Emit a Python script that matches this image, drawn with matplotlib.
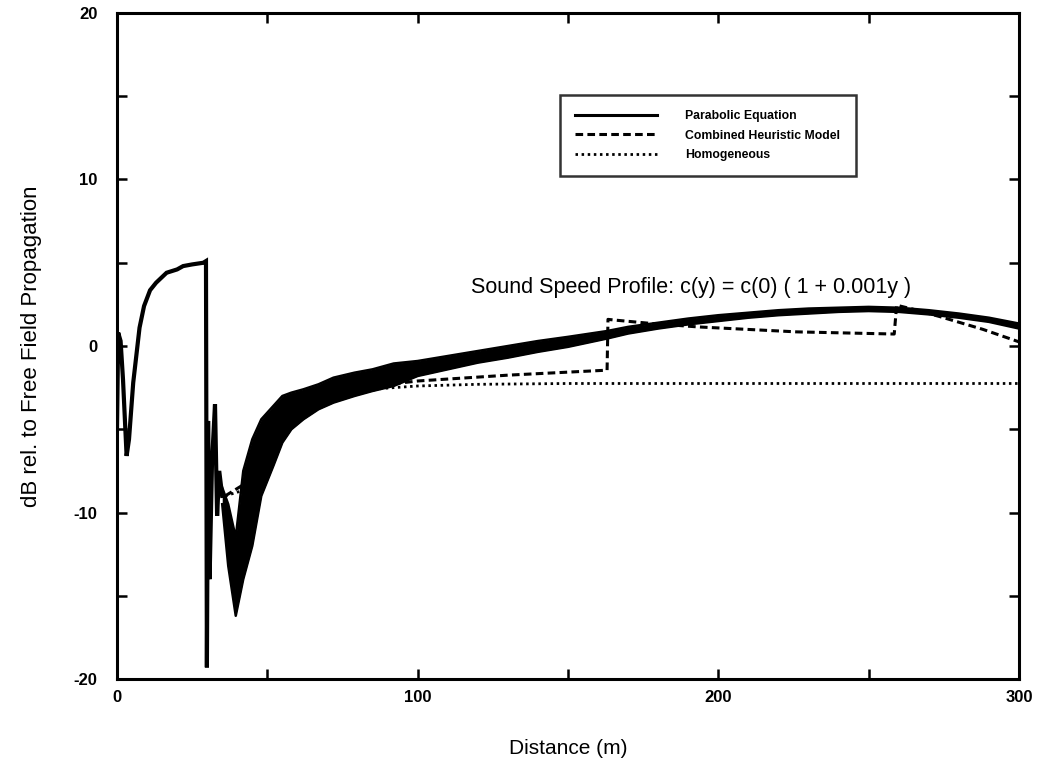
import numpy as np
import matplotlib
matplotlib.use("Agg")
import matplotlib.pyplot as plt

plt.rcParams['font.family'] = ['Liberation Sans', 'DejaVu Sans']
plt.rcParams['axes.unicode_minus'] = False

# Parabolic equation, near field (single line)
pe_near_x = [0, 0.4, 1.2, 2.0, 3.2, 4.0, 5.4, 7.5, 9.0, 11.0, 13.0, 16.5, 20.0, 22.0, 25.0, 28.7, 29.6,
             29.9, 30.3, 30.8, 31.6, 32.6, 33.3, 34.0, 35.0]
pe_near_y = [-5.0, 0.8, 0.3, -2.0, -6.6, -5.6, -2.2, 1.1, 2.4, 3.35, 3.8, 4.4, 4.6, 4.8, 4.9, 5.0, 5.1,
             -19.3, -4.5, -14.0, -7.0, -3.5, -10.2, -7.5, -9.0]

# Parabolic equation, oscillating part: lower / upper envelope of the band
pe_band_x = [35, 37, 39.5, 42, 45, 48, 52, 55, 58, 62, 67, 72, 79, 85, 92, 100, 110, 120, 130, 140,
             150, 163, 170, 180, 190, 200, 210, 220, 230, 240, 250, 260, 270, 280, 290, 300]
pe_band_lo = [-9.5, -13.2, -16.2, -14.0, -12.0, -9.0, -7.2, -5.8, -5.0, -4.4, -3.8, -3.4, -3.0, -2.7,
              -2.4, -1.8, -1.4, -1.0, -0.7, -0.35, -0.05, 0.45, 0.75, 1.05, 1.3, 1.5, 1.7, 1.85, 1.95,
              2.05, 2.1, 2.05, 1.9, 1.7, 1.45, 1.05]
pe_band_hi = [-8.5, -9.5, -11.5, -7.5, -5.6, -4.4, -3.6, -3.0, -2.8, -2.6, -2.3, -1.9, -1.6, -1.4,
              -1.05, -0.9, -0.6, -0.3, 0.0, 0.3, 0.55, 0.9, 1.15, 1.4, 1.65, 1.85, 2.0, 2.15, 2.25,
              2.3, 2.35, 2.3, 2.15, 1.95, 1.7, 1.35]

# Combined heuristic model
heur_x = [36, 45, 60, 75, 88, 100, 130, 163, 163.3, 166, 178, 193, 226, 258.5, 259.3, 265, 274, 288, 300]
heur_y = [-9.0, -8.0, -3.8, -2.8, -2.35, -2.1, -1.75, -1.45, 1.6, 1.55, 1.35, 1.15, 0.85, 0.72, 2.45,
          2.2, 1.75, 1.0, 0.25]

# Homogeneous atmosphere
homo_x = [36, 45, 60, 75, 88, 100, 120, 150, 200, 250, 300]
homo_y = [-9.0, -8.5, -4.0, -3.0, -2.55, -2.4, -2.3, -2.25, -2.25, -2.25, -2.25]

fig = plt.figure(figsize=(10.38, 7.63), dpi=100)
ax = fig.add_axes([0.1127, 0.110, 0.869, 0.873])

# parabolic equation
ax.plot(pe_near_x, pe_near_y, color='black', lw=3.0, solid_joinstyle='miter', zorder=3)
ax.fill_between(pe_band_x, pe_band_lo, pe_band_hi, color='black', lw=0, zorder=3)
ax.plot(pe_band_x, pe_band_lo, color='black', lw=1.8, zorder=3)
ax.plot(pe_band_x, pe_band_hi, color='black', lw=1.8, zorder=3)

# heuristic + homogeneous on top
ax.plot(heur_x, heur_y, color='black', lw=2.2, dashes=(2.5, 1.4), zorder=4)
ax.plot(homo_x, homo_y, color='black', lw=2.0, dashes=(0.9, 1.3), zorder=4)

# legend proxies
h1, = ax.plot([], [], color='black', lw=2.2, label='Parabolic Equation')
h2, = ax.plot([], [], color='black', lw=2.2, dashes=(2.5, 1.4), label='Combined Heuristic Model')
h3, = ax.plot([], [], color='black', lw=2.0, dashes=(0.9, 1.3), label='Homogeneous')
leg = ax.legend(handles=[h1, h2, h3], loc='upper left', bbox_to_anchor=(0.5395, 0.8755),
                bbox_transform=fig.transFigure, borderaxespad=0, frameon=True, fancybox=False,
                prop={'size': 8.8, 'weight': 'bold'}, handlelength=6.7, handletextpad=2.3,
                labelspacing=0.6, borderpad=1.25)
leg.get_frame().set_edgecolor('black')
leg.get_frame().set_linewidth(1.8)

ax.text(191, 3.5, 'Sound Speed Profile: c(y) = c(0) ( 1 + 0.001y )', fontsize=15.5,
        ha='center', va='center')

ax.set_xlim(0, 300)
ax.set_ylim(-20, 20)
ax.set_xticks([0, 100, 200, 300])
ax.set_xticks([50, 150, 250], minor=True)
ax.set_yticks([-20, -10, 0, 10, 20])
ax.set_yticks([-15, -5, 5, 15], minor=True)
ax.tick_params(which='both', direction='in', length=7, width=1.8, top=True, right=True)
ax.tick_params(axis='x', pad=8)
ax.tick_params(axis='y', pad=14)
for lab in ax.get_xticklabels() + ax.get_yticklabels():
    lab.set_fontweight('bold')
    lab.set_fontsize(12)
for sp in ax.spines.values():
    sp.set_linewidth(2.2)

ax.set_xlabel('Distance (m)', fontsize=15)
ax.set_ylabel('dB rel. to Free Field Propagation', fontsize=16)
ax.xaxis.set_label_coords(0.5, -0.09)
ax.yaxis.set_label_coords(-0.083, 0.5)

fig.savefig('out.png', dpi=100)
